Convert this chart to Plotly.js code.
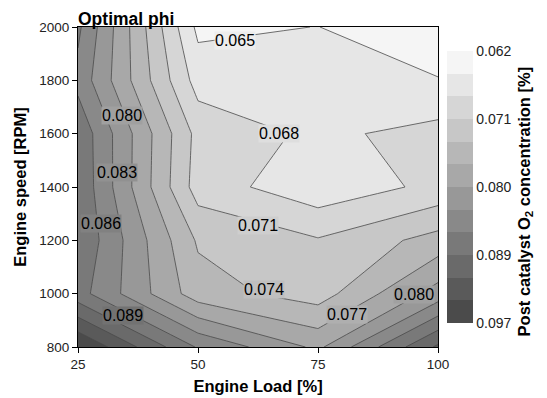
<!DOCTYPE html>
<html>
<head>
<meta charset="utf-8">
<script src="https://cdn.plot.ly/plotly-3.0.1.min.js"></script>
<style>html,body{margin:0;padding:0;background:#fff;}#chart{width:547px;height:398px;}</style>
</head>
<body>
<div id="chart"></div>
<script>
// Engine load [%] (x) and engine speed [RPM] (y)
const engineLoad = [25, 50, 75, 100];
const engineSpeed = [800, 1000, 1200, 1400, 1600, 1800, 2000];

// Post catalyst O2 concentration [%] at each speed row, across loads 25/50/75/100
const o2_800  = [0.0974, 0.0853, 0.0791, 0.0920];
const o2_1000 = [0.0868, 0.0752, 0.0725, 0.0810];
const o2_1200 = [0.0882, 0.0735, 0.0712, 0.0750];
const o2_1400 = [0.0880, 0.0696, 0.0660, 0.0688];
const o2_1600 = [0.0878, 0.0700, 0.0674, 0.0690];
const o2_1800 = [0.0847, 0.0668, 0.0662, 0.0653];
const o2_2000 = [0.0862, 0.0644, 0.06515, 0.0622];

// contour levels
const levelStart = 0.0651;
const levelSize = 0.00293;
const levelEnd = 0.09441;
const nBands = 12;
const cbMin = levelStart - levelSize;                 // 0.06217
const cbMax = levelStart + (nBands - 1) * levelSize;  // 0.09733

// colour bar tick labels
const cbTickVals = [0.06217, 0.07096, 0.07975, 0.08854, 0.09733];
const cbTickText = ['0.062', '0.071', '0.080', '0.089', '0.097'];

// inline contour labels: which level (1 = first line) and where it sits
const labelLevel = [1, 2, 3, 4, 5, 6, 6, 7, 8, 9];
const labelLoad  = [57.7, 66.8, 62.6, 63.8, 81.0, 95.0, 34.2, 33.1, 29.8, 34.4];
const labelSpeed = [1951, 1602, 1257, 1017, 921, 996, 1668, 1453, 1264, 917];

const FONT = 'Liberation Sans, Arial, Helvetica, sans-serif';
const LIGHT = 245, DARK = 75;
function grayAt(t) { const v = Math.round(LIGHT + (DARK - LIGHT) * t); return 'rgb(' + v + ',' + v + ',' + v + ')'; }

const z = [o2_800, o2_1000, o2_1200, o2_1400, o2_1600, o2_1800, o2_2000];
const zNeg = z.map(r => r.map(v => -v));

// stepped scale for the (reversed) colour bar: bottom = darkest band
const stepScale = [];
for (let b = 0; b < nBands; b++) {
  const c = grayAt((nBands - 1 - b) / (nBands - 1));
  stepScale.push([b / nBands, c]);
  stepScale.push([(b + 1) / nBands, c]);
}

const contourTrace = {
  type: 'contour',
  x: engineLoad,
  y: engineSpeed,
  z: z,
  autocontour: false,
  contours: {start: levelStart, end: levelEnd, size: levelSize, coloring: 'fill', showlabels: false},
  line: {color: '#4a4a4a', width: 0.8, smoothing: 0},
  colorscale: [[0, grayAt(0)], [1, grayAt(1)]],
  showscale: false,
  hoverinfo: 'skip'
};

// carries only the colour bar (drawn on hidden axes, out of view)
const scaleTrace = {
  type: 'heatmap',
  x: engineLoad,
  y: engineSpeed,
  z: zNeg,
  xaxis: 'x2', yaxis: 'y2',
  zmin: -cbMax, zmax: -cbMin,
  colorscale: stepScale,
  showscale: true,
  hoverinfo: 'skip',
  colorbar: {
    x: 0.997, xanchor: 'left',
    y: 0.5, yanchor: 'middle',
    len: 0.9125, lenmode: 'fraction',
    thickness: 26, thicknessmode: 'pixels',
    outlinewidth: 0,
    ticks: '',
    tickvals: cbTickVals.map((v, i) => -v + (i === 0 ? -1e-6 : (i === cbTickVals.length - 1 ? 1e-6 : 0))),
    ticktext: cbTickText,
    tickfont: {family: FONT, size: 14, color: '#222'}
  }
};

const annotations = labelLevel.map((k, i) => ({
  x: labelLoad[i], y: labelSpeed[i], xref: 'x', yref: 'y',
  text: (levelStart + (k - 1) * levelSize).toFixed(3),
  showarrow: false,
  font: {family: FONT, size: 16, color: '#000'},
  bgcolor: grayAt((k - 0.5) / (nBands - 1)),
  borderpad: 0
}));

// colour bar title
annotations.push({
  x: 1.2417, y: 0.455, xref: 'paper', yref: 'paper',
  xanchor: 'center', yanchor: 'middle',
  text: '<b>Post catalyst O<sub>2</sub> concentration [%]</b>',
  textangle: -90,
  showarrow: false,
  font: {family: FONT, size: 16.5, color: '#000'}
});

const layout = {
  width: 547,
  height: 398,
  margin: {l: 78, r: 109, t: 27, b: 51, pad: 0, autoexpand: false},
  paper_bgcolor: '#fff',
  plot_bgcolor: '#fff',
  showlegend: false,
  title: {
    text: '<b>Optimal phi</b>',
    x: 0, xref: 'paper', xanchor: 'left',
    y: 1, yref: 'paper', yanchor: 'bottom',
    pad: {b: 2},
    font: {family: FONT, size: 17.5, color: '#000'}
  },
  xaxis: {
    range: [25, 100],
    tickvals: [25, 50, 75, 100],
    ticks: 'outside', ticklen: 5, tickcolor: '#000',
    showline: true, linecolor: '#000', linewidth: 1, mirror: true,
    showgrid: false, zeroline: false,
    tickfont: {family: FONT, size: 13.5, color: '#222'},
    title: {text: '<b>Engine Load [%]</b>', standoff: 9, font: {family: FONT, size: 16.5, color: '#000'}}
  },
  yaxis: {
    range: [800, 2000],
    tickvals: [800, 1000, 1200, 1400, 1600, 1800, 2000],
    ticks: 'outside', ticklen: 5, tickcolor: '#000',
    showline: true, linecolor: '#000', linewidth: 1, mirror: true,
    showgrid: false, zeroline: false,
    tickfont: {family: FONT, size: 13.5, color: '#222'},
    title: {text: '<b>Engine speed [RPM]</b>', standoff: 8, font: {family: FONT, size: 16.5, color: '#000'}}
  },
  xaxis2: {overlaying: 'x', range: [1000, 2000], visible: false, fixedrange: true},
  yaxis2: {overlaying: 'y', range: [10000, 20000], visible: false, fixedrange: true},
  annotations: annotations
};

Plotly.newPlot('chart', [contourTrace, scaleTrace], layout, {displayModeBar: false, staticPlot: true});
</script>
</body>
</html>
